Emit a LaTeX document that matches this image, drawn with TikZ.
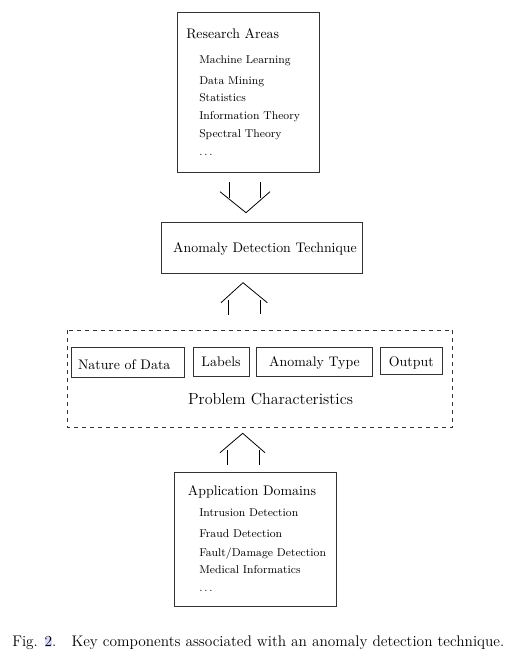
\documentclass[tikz,border=0pt]{standalone}
\usepackage{amsmath}
\usepackage{tikz}

\tikzset{
  box/.style={draw=black!80, line width=0.6pt},
  head/.style={anchor=base west, inner sep=0pt, font=\fontsize{10.4}{12}\selectfont},
  item/.style={anchor=base west, inner sep=0pt, font=\fontsize{8.5}{10}\selectfont},
  tag/.style={anchor=base, inner sep=0pt, font=\fontsize{10.4}{12}\selectfont}
}

\begin{document}
\begin{tikzpicture}[x=0.75pt,y=-0.75pt]
\useasboundingbox (0,0) rectangle (521,661);
% research areas
\draw[box] (177,12) rectangle (319,172);
\node[head] (ra) at (186,38.3) {Research Areas};
\node[item] (ra1) at (199,63.3) {Machine Learning};
\node[item] (ra2) at (199,84) {Data Mining};
\node[item] (ra3) at (199,101.7) {Statistics};
\node[item] (ra4) at (199,119) {Information Theory};
\node[item] (ra5) at (199,137.7) {Spectral Theory};
\node[item] (ra6) at (199,155) {$\dots$};
% arrow down
\draw[line width=0.6pt] (229.3,182) -- (229.3,198);
\draw[line width=0.6pt] (260.7,182) -- (260.7,198);
\draw[line width=0.6pt] (220,191.7) -- (246,212.7) -- (270,191.7);
% technique
\draw[box] (161,222) rectangle (362,273);
\node[tag] (adt) at (265,252) {Anomaly Detection Technique};
% arrow up
\draw[line width=0.6pt] (228.3,300) -- (228.3,315);
\draw[line width=0.6pt] (260,300) -- (260,314);
\draw[line width=0.6pt] (221,302.7) -- (243,282.7) -- (267.3,302.7);
% problem characteristics
\draw[box, dashed] (67.3,330) rectangle (452.7,427.3);
\draw[box] (71.7,347.7) rectangle (184,377.3);
\draw[box] (193.3,347.7) rectangle (249,376);
\draw[box] (256.7,347) rectangle (372.3,376);
\draw[box] (380,347) rectangle (442.7,374);
\node[tag] (nd) at (124.2,369) {Nature of Data};
\node[tag] (lb) at (221,366.7) {Labels};
\node[tag] (at) at (314.5,366.7) {Anomaly Type};
\node[tag] (op) at (411.3,366.7) {Output};
\node[tag, font=\fontsize{12}{14}\selectfont] (pc) at (270.5,404) {Problem Characteristics};
% arrow up
\draw[line width=0.6pt] (227.3,450) -- (227.3,465);
\draw[line width=0.6pt] (259.3,450) -- (259.3,465);
\draw[line width=0.6pt] (220,452.7) -- (242.7,433.3) -- (265,452.7);
% application domains
\draw[box] (174.7,472.3) rectangle (336.3,606.7);
\node[head] (ad) at (187.7,495) {Application Domains};
\node[item] (ad1) at (199,516.7) {Intrusion Detection};
\node[item] (ad2) at (199,537.3) {Fraud Detection};
\node[item] (ad3) at (199,556.7) {Fault/Damage Detection};
\node[item] (ad4) at (199,573.3) {Medical Informatics};
\node[item] (ad5) at (199,591.7) {$\dots$};
% caption
\node[head, font=\fontsize{11.5}{13}\selectfont] (cap) at (12,646.7) {Fig. {\fboxsep=0pt\colorbox{blue!12}{2}}.\hspace{1.0em}Key components associated with an anomaly detection technique.};
\end{tikzpicture}
\end{document}
